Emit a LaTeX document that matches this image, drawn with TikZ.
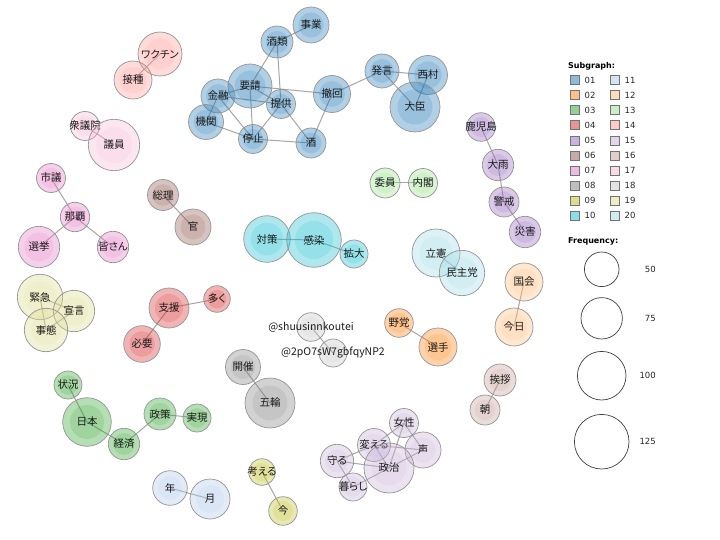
\documentclass[tikz,border=0pt]{standalone}
\usepackage{fontspec}
\usetikzlibrary{backgrounds}
\newfontfamily\jp[RawFeature=+palt]{Noto Sans CJK JP}
\newfontfamily\leg{DejaVu Sans}
\definecolor{c01}{HTML}{1F77B4}\definecolor{c02}{HTML}{FF7F0E}
\definecolor{c03}{HTML}{2CA02C}\definecolor{c04}{HTML}{D62728}
\definecolor{c05}{HTML}{9467BD}\definecolor{c06}{HTML}{8C564B}
\definecolor{c07}{HTML}{E377C2}\definecolor{c08}{HTML}{7F7F7F}
\definecolor{c09}{HTML}{BCBD22}\definecolor{c10}{HTML}{17BECF}
\definecolor{c11}{HTML}{AEC7E8}\definecolor{c12}{HTML}{FFBB78}
\definecolor{c13}{HTML}{98DF8A}\definecolor{c14}{HTML}{FF9896}
\definecolor{c15}{HTML}{C5B0D5}\definecolor{c16}{HTML}{C49C94}
\definecolor{c17}{HTML}{F7B6D2}\definecolor{c18}{HTML}{C7C7C7}
\definecolor{c19}{HTML}{DBDB8D}\definecolor{c20}{HTML}{9EDAE5}
\definecolor{edgecol}{HTML}{A6A6A6}
\definecolor{txtcol}{HTML}{1A1A1A}
\tikzset{
  kn/.style={circle, draw=black!42, line width=0.7pt, inner sep=0pt,
    fill opacity=0.35, text opacity=1, text=txtcol,
    font=\jp\fontsize{10.5}{12}\selectfont},
  edge/.style={draw=edgecol, line width=1pt},
  legsq/.style={draw=black!55, line width=0.6pt, fill opacity=0.5, minimum size=9pt, inner sep=0pt},
  legtx/.style={font=\leg\fontsize{8.5}{10}\selectfont, text=black!85, anchor=west, inner sep=0pt},
  freqc/.style={circle, draw=black!75, line width=0.7pt, inner sep=0pt},
  freqtx/.style={font=\leg\fontsize{8.5}{10}\selectfont, text=black!85, anchor=east, inner sep=0pt},
  leghead/.style={font=\leg\bfseries\fontsize{8}{10}\selectfont, anchor=west, inner sep=0pt}
}
\newcommand\kwn[6]{\node[kn, minimum size=#4*2pt, fill=#5,
  path picture={\fill[#5, fill opacity=0.16] (path picture bounding box.center) circle[radius=#4*0.7pt];}]
  (#1) at (#2,#3) {\makebox[0pt]{#6}};}
\begin{document}
\begin{tikzpicture}[x=1pt,y=-1pt]
\useasboundingbox (0,0) rectangle (720,540);
% ---- nodes ----
\kwn{jigyo}{311}{25}{18}{c01}{事業}
\kwn{shurui}{277}{42}{16}{c01}{酒類}
\kwn{yosei}{250}{86}{22}{c01}{要請}
\kwn{kinyu}{218}{96}{17}{c01}{金融}
\kwn{teikyo}{281}{104}{14.5}{c01}{提供}
\kwn{tekkai}{332}{94}{18.5}{c01}{撤回}
\kwn{kikan}{206}{122}{17.5}{c01}{機関}
\kwn{teishi}{253}{139}{14.5}{c01}{停止}
\kwn{sake}{311}{143}{15}{c01}{酒}
\kwn{hatsugen}{382}{71}{17}{c01}{発言}
\kwn{nishimura}{428}{75}{19.5}{c01}{西村}
\kwn{daijin}{415}{107}{25}{c01}{大臣}
\kwn{wakuchin}{160}{54}{22}{c14}{ワクチン}
\kwn{sesshu}{133}{80}{19}{c14}{接種}
\kwn{shugiin}{85}{126}{14.5}{c17}{衆議院}
\kwn{giin}{114}{145}{25.7}{c17}{議員}
\kwn{shigi}{51}{178}{14.5}{c07}{市議}
\kwn{naha}{75}{217}{14.7}{c07}{那覇}
\kwn{senkyo}{39}{247}{20.7}{c07}{選挙}
\kwn{minasan}{113}{247}{15.7}{c07}{皆さん}
\kwn{sori}{163}{195}{15.5}{c06}{総理}
\kwn{kan}{193}{227}{18}{c06}{官}
\kwn{kinkyu}{40}{297}{22.7}{c19}{緊急}
\kwn{sengen}{74}{311}{20.7}{c19}{宣言}
\kwn{jitai}{46}{330}{21.7}{c19}{事態}
\kwn{shien}{169}{308}{20}{c04}{支援}
\kwn{ooku}{217}{299}{13.3}{c04}{多く}
\kwn{hitsuyo}{142}{344}{18.3}{c04}{必要}
\kwn{jokyo}{68}{385}{14}{c03}{状況}
\kwn{nihon}{87}{422}{24.3}{c03}{日本}
\kwn{keizai}{124}{444}{15.7}{c03}{経済}
\kwn{seisaku}{160}{414}{16}{c03}{政策}
\kwn{jitsugen}{197}{418}{14}{c03}{実現}
\kwn{kaisai}{243}{367}{17.5}{c08}{開催}
\kwn{gorin}{270}{403}{25}{c08}{五輪}
\kwn{toshi}{170}{488}{17.3}{c11}{年}
\kwn{tsuki}{210}{499}{20}{c11}{月}
\kwn{kangaeru}{262}{472}{13.3}{c09}{考える}
\kwn{ima}{283}{511}{14.3}{c09}{今}
\kwn{taisaku}{267}{239}{23.3}{c10}{対策}
\kwn{kansen}{314}{240}{27.3}{c10}{感染}
\kwn{kakudai}{354}{254}{14}{c10}{拡大}
\kwn{shuu}{311}{327}{14.3}{c18}{@shuusinnkoutei}
\kwn{ptwo}{333}{353}{14}{c18}{@2pO7sW7gbfqyNP2}
\kwn{yato}{399}{323}{14.3}{c02}{野党}
\kwn{senshu}{438}{347}{19}{c02}{選手}
\kwn{rikken}{436}{253}{24}{c20}{立憲}
\kwn{minshu}{462}{273}{22.7}{c20}{民主党}
\kwn{kokkai}{524}{282}{19}{c12}{国会}
\kwn{kyo}{514}{327}{19}{c12}{今日}
\kwn{aisatsu}{500}{380}{16}{c16}{挨拶}
\kwn{asa}{485}{410}{15}{c16}{朝}
\kwn{iin}{385}{183}{15}{c13}{委員}
\kwn{naikaku}{423}{183}{14.5}{c13}{内閣}
\kwn{kagoshima}{481}{127}{14.3}{c05}{鹿児島}
\kwn{ooame}{498}{165}{15.7}{c05}{大雨}
\kwn{keikai}{504}{202}{15}{c05}{警戒}
\kwn{saigai}{525}{232}{15.7}{c05}{災害}
\kwn{josei}{404}{423}{14.5}{c15}{女性}
\kwn{koe}{423}{450}{18}{c15}{声}
\kwn{kaeru}{374}{445}{16.5}{c15}{変える}
\kwn{mamoru}{337}{461}{16.7}{c15}{守る}
\kwn{seiji}{389}{468}{25}{c15}{政治}
\kwn{kurashi}{353}{487}{14}{c15}{暮らし}
% ---- edges ----
\begin{pgfonlayer}{background}
\foreach \a/\b in {jigyo/shurui, shurui/yosei, shurui/teikyo, yosei/kinyu, yosei/teikyo,
  yosei/tekkai, yosei/teishi, kinyu/teikyo, kinyu/kikan, kinyu/teishi, kikan/teishi,
  teishi/teikyo, teishi/sake, teikyo/sake, tekkai/sake, tekkai/hatsugen,
  hatsugen/nishimura, hatsugen/daijin, nishimura/daijin,
  wakuchin/sesshu, shugiin/giin, shigi/naha, naha/senkyo, naha/minasan, sori/kan,
  kinkyu/sengen, kinkyu/jitai, sengen/jitai, shien/ooku, shien/hitsuyo,
  jokyo/nihon, nihon/keizai, keizai/seisaku, seisaku/jitsugen, kaisai/gorin,
  toshi/tsuki, kangaeru/ima, taisaku/kansen, kansen/kakudai, shuu/ptwo,
  yato/senshu, rikken/minshu, kokkai/kyo, aisatsu/asa, iin/naikaku,
  kagoshima/ooame, ooame/keikai, keikai/saigai,
  josei/kaeru, josei/seiji, josei/koe, kaeru/koe, kaeru/mamoru, kaeru/seiji,
  mamoru/seiji, mamoru/kurashi, kurashi/seiji, koe/seiji}
  \draw[edge] (\a.center) -- (\b.center);
\end{pgfonlayer}
% ---- legend ----
\node[leghead] (lsub) at (568,66) {Subgraph:};
\foreach \i/\nm in {1/01,2/02,3/03,4/04,5/05,6/06,7/07,8/08,9/09,10/10}{
  \node[legsq, fill=c\nm] (sqa\i) at (574.5,{80+(\i-1)*15.1}) {};
  \node[legtx] (lta\i) at (584.5,{80+(\i-1)*15.1}) {\nm};
}
\foreach \i/\nm in {1/11,2/12,3/13,4/14,5/15,6/16,7/17,8/18,9/19,10/20}{
  \node[legsq, fill=c\nm] (sqb\i) at (614.5,{80+(\i-1)*15.1}) {};
  \node[legtx] (ltb\i) at (624.5,{80+(\i-1)*15.1}) {\nm};
}
\node[leghead] (lfreq) at (568,241) {Frequency:};
\node[freqc, minimum size=34.6pt] (f50) at (601.7,269.3) {};
\node[freqc, minimum size=41.4pt] (f75) at (601.7,318.3) {};
\node[freqc, minimum size=48.6pt] (f100) at (601.7,375.7) {};
\node[freqc, minimum size=54.6pt] (f125) at (601.7,441.7) {};
\node[freqtx] (t50) at (656,269.3) {50};
\node[freqtx] (t75) at (656,318.3) {75};
\node[freqtx] (t100) at (656,375.7) {100};
\node[freqtx] (t125) at (656,441.7) {125};
\end{tikzpicture}
\end{document}
